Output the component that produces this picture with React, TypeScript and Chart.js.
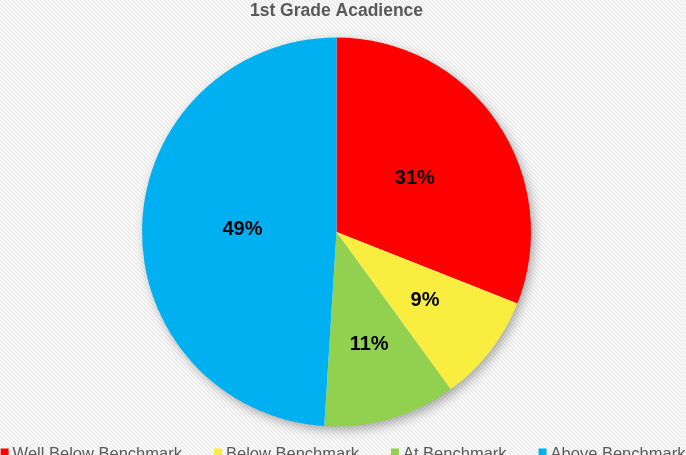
import React, { useEffect, useRef } from "react";
import { Chart, registerables } from "chart.js";

Chart.register(...registerables);

const titleText = "1st Grade Acadience";
const categories = ["Well Below Benchmark", "Below Benchmark", "At Benchmark", "Above Benchmark"];
const values = [31, 9, 11, 49];
const colors = ["#FF0000", "#F9EE3F", "#92D050", "#00B0F0"];
const labelRadiusFractions = [0.487, 0.576, 0.601, 0.484];

const W = 686;
const H = 455;

function makePattern(ctx: CanvasRenderingContext2D) {
  const tile = document.createElement("canvas");
  tile.width = 4;
  tile.height = 4;
  const t = tile.getContext("2d")!;
  const img = t.createImageData(4, 4);
  for (let y = 0; y < 4; y++) {
    for (let x = 0; x < 4; x++) {
      const d = ((x - y) % 4 + 4) % 4;
      const c = d === 0 ? 232 : d === 1 ? 240 : 251;
      const i = (y * 4 + x) * 4;
      img.data[i] = c;
      img.data[i + 1] = c;
      img.data[i + 2] = c;
      img.data[i + 3] = 255;
    }
  }
  t.putImageData(img, 0, 0);
  return ctx.createPattern(tile, "repeat");
}

const decorPlugin = {
  id: "decor",
  beforeDraw(chart: any) {
    const ctx = chart.ctx as CanvasRenderingContext2D;
    ctx.save();
    const p = makePattern(ctx);
    ctx.fillStyle = p || "#f5f5f5";
    ctx.fillRect(0, 0, chart.width, chart.height);
    ctx.restore();
  },
  beforeDatasetsDraw(chart: any) {
    const ctx = chart.ctx as CanvasRenderingContext2D;
    const arc = chart.getDatasetMeta(0).data[0];
    if (!arc) return;
    const { x, y, outerRadius } = arc.getProps(["x", "y", "outerRadius"], true);
    ctx.save();
    ctx.shadowColor = "rgba(0,0,0,0.35)";
    ctx.shadowBlur = 12;
    ctx.shadowOffsetX = 3;
    ctx.shadowOffsetY = 4;
    ctx.fillStyle = "#ffffff";
    ctx.beginPath();
    ctx.arc(x, y, outerRadius - 1, 0, Math.PI * 2);
    ctx.fill();
    ctx.restore();
  },
  afterDatasetsDraw(chart: any) {
    const ctx = chart.ctx as CanvasRenderingContext2D;
    const meta = chart.getDatasetMeta(0);
    const data = chart.data.datasets[0].data as number[];
    const total = data.reduce((a, b) => a + b, 0);
    ctx.save();
    ctx.font = "bold 20px 'Liberation Sans', Arial, sans-serif";
    ctx.fillStyle = "#000000";
    ctx.textAlign = "center";
    ctx.textBaseline = "middle";
    meta.data.forEach((el: any, i: number) => {
      const { x, y, startAngle, endAngle, outerRadius } = el.getProps(
        ["x", "y", "startAngle", "endAngle", "outerRadius"],
        true
      );
      const mid = (startAngle + endAngle) / 2;
      const r = outerRadius * labelRadiusFractions[i];
      const lx = x + Math.cos(mid) * r;
      const ly = y + Math.sin(mid) * r;
      ctx.fillText(Math.round((data[i] / total) * 100) + "%", lx, ly);
    });
    ctx.restore();
  },
  afterDraw(chart: any) {
    const ctx = chart.ctx as CanvasRenderingContext2D;
    ctx.save();
    // title
    ctx.font = "bold 17.5px 'Liberation Sans', Arial, sans-serif";
    ctx.fillStyle = "#595959";
    ctx.textAlign = "center";
    ctx.textBaseline = "alphabetic";
    ctx.fillText(titleText, 336.5, 16);
    // legend
    const labels = chart.data.labels as string[];
    const bg = chart.data.datasets[0].backgroundColor as string[];
    ctx.font = "16.5px 'Liberation Sans', Arial, sans-serif";
    const box = 8;
    const boxGap = 4;
    const itemGap = 32;
    const widths = labels.map((l) => ctx.measureText(l).width);
    const total = widths.reduce((a, w) => a + box + boxGap + w, 0) + itemGap * (labels.length - 1);
    let x = (chart.width - total) / 2;
    const baseline = 458.5;
    ctx.textAlign = "left";
    labels.forEach((l, i) => {
      ctx.fillStyle = bg[i];
      ctx.fillRect(x, baseline - 10, box, box);
      ctx.fillStyle = "#595959";
      ctx.fillText(l, x + box + boxGap, baseline);
      x += box + boxGap + widths[i] + itemGap;
    });
    ctx.restore();
  },
};

export default function App() {
  const ref = useRef<HTMLCanvasElement | null>(null);
  useEffect(() => {
    if (!ref.current) return;
    const chart = new Chart(ref.current, {
      type: "pie",
      data: {
        labels: categories,
        datasets: [
          {
            data: values,
            backgroundColor: colors,
            borderWidth: 0,
          },
        ],
      },
      options: {
        responsive: false,
        animation: false,
        devicePixelRatio: 1,
        layout: { padding: { left: 142, right: 155, top: 37, bottom: 28 } },
        plugins: {
          legend: { display: false },
          title: { display: false },
          tooltip: { enabled: false },
        },
      },
      plugins: [decorPlugin],
    });
    return () => chart.destroy();
  }, []);
  return (
    <div style={{ position: "fixed", left: 0, top: 0, width: W, height: H }}>
      <canvas ref={ref} width={W} height={H} style={{ width: W, height: H, display: "block" }} />
    </div>
  );
}
